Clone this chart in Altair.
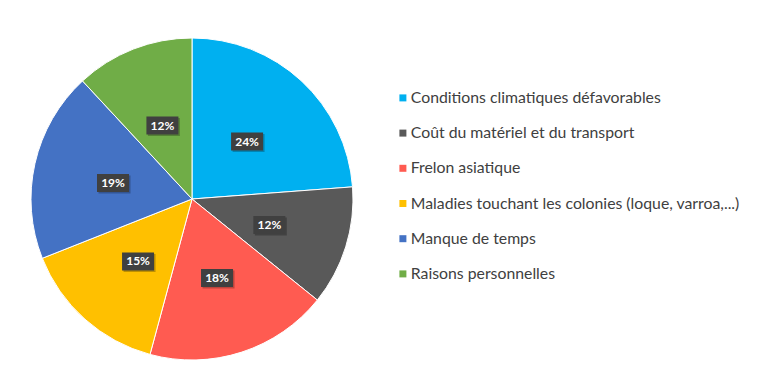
import altair as alt
import pandas as pd

categories = [
    "Conditions climatiques défavorables",
    "Coût du matériel et du transport",
    "Frelon asiatique",
    "Maladies touchant les colonies (loque, varroa,...)",
    "Manque de temps",
    "Raisons personnelles",
]
values = [23.8, 12.0, 18.4, 14.8, 19.1, 11.9]
labels = ["24%", "12%", "18%", "15%", "19%", "12%"]
colors = ["#00B0F0", "#595959", "#FF5B51", "#FFC000", "#4472C4", "#70AD47"]

W, H = 740, 360
CX, CY, R, LR = 184, 191, 161, 81

df = pd.DataFrame({"cat": categories, "val": values, "lab": labels, "idx": list(range(len(categories)))})

base = alt.Chart(df)

pie = base.mark_arc(outerRadius=R, stroke="white", strokeWidth=1).encode(
    theta=alt.Theta("val:Q", stack=True),
    order=alt.Order("idx:Q"),
    color=alt.Color(
        "cat:N",
        scale=alt.Scale(domain=categories, range=colors),
        sort=categories,
        legend=alt.Legend(
            title=None,
            orient="none",
            legendX=387,
            legendY=82,
            symbolType="square",
            symbolSize=49,
            symbolStrokeWidth=0,
            labelFont="Lato",
            labelFontSize=15.8,
            labelColor="#404040",
            labelLimit=400,
            rowPadding=18.2,
            labelOffset=0,
            padding=0,
        ),
    ),
    x=alt.value(CX),
    y=alt.value(CY),
)

pos = base.transform_joinaggregate(total="sum(val)").transform_window(
    cum="sum(val)", sort=[alt.SortField("idx")], frame=[None, 0]
).transform_calculate(
    ang="(datum.cum - datum.val / 2) / datum.total * 2 * PI",
).transform_calculate(
    px=f"{CX} + {LR} * sin(datum.ang)",
    py=f"{CY} + 2 - {LR} * cos(datum.ang)",
)

xenc = alt.X("px:Q", scale=alt.Scale(domain=[0, W], nice=False, zero=False), axis=None)
yenc = alt.Y("py:Q", scale=alt.Scale(domain=[0, H], reverse=True, nice=False, zero=False), axis=None)

box_shape = "M-1.6,-0.9L1.6,-0.9L1.6,0.9L-1.6,0.9Z"

shadow = pos.mark_point(shape=box_shape, filled=True, size=400, color="#000000", opacity=0.25, xOffset=1.5, yOffset=1.5).encode(x=xenc, y=yenc)
boxes = pos.mark_point(shape=box_shape, filled=True, size=400, color="#404040", opacity=1).encode(x=xenc, y=yenc)
texts = pos.mark_text(font="Lato", fontSize=12, fontWeight="bold", color="white", baseline="middle", align="center").encode(
    x=xenc, y=yenc, text="lab:N"
)

chart = alt.layer(pie, shadow, boxes, texts).properties(
    width=W, height=H, padding=0, autosize=alt.AutoSizeParams(type="none")
).configure_view(stroke=None)

chart.save("out.html", embed_options={"renderer": "svg", "actions": False})
